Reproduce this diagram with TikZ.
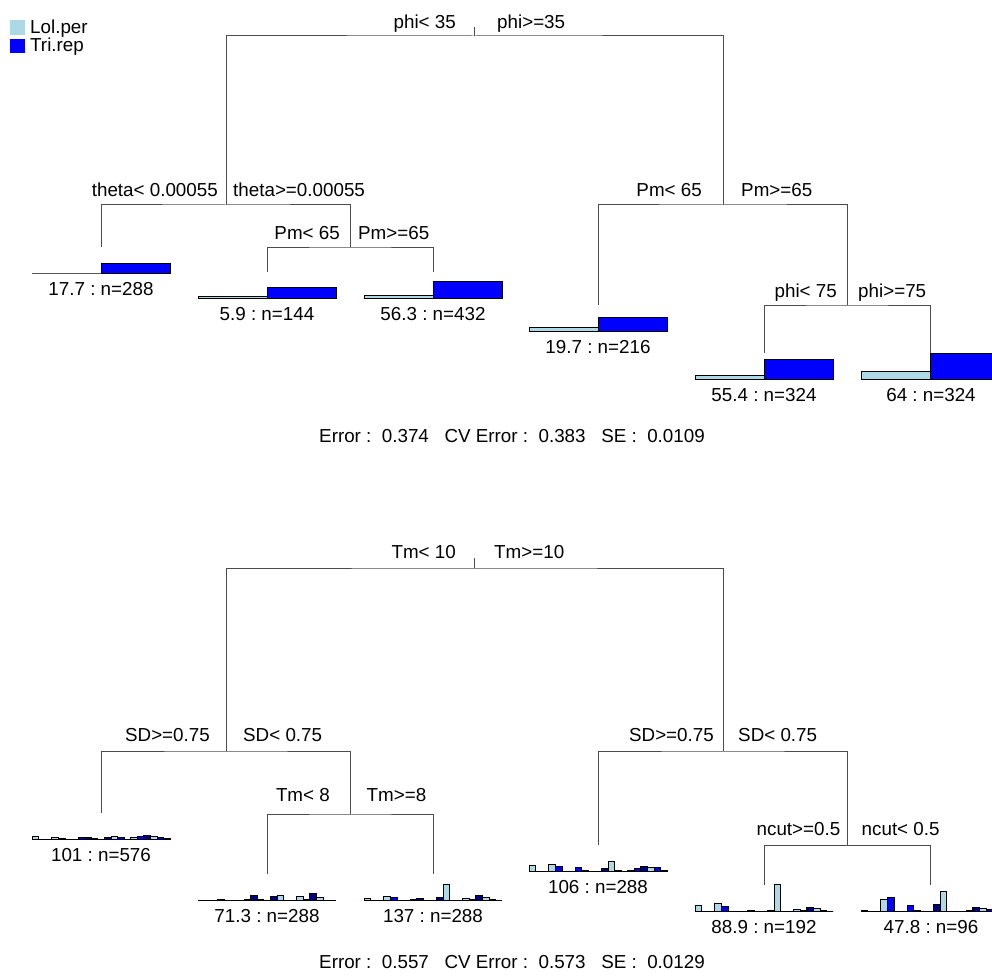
\documentclass[tikz,border=0pt]{standalone}
\usepackage{fontspec}
\setmainfont{Liberation Sans}
\frenchspacing
\definecolor{lb}{HTML}{ADD8E6}
\definecolor{bl}{HTML}{0000FF}
\definecolor{nv}{HTML}{000080}
\tikzset{
  edge/.style={draw=black!70, line width=1pt},
  lab/.style={inner sep=0pt, font=\fontsize{18.8}{22}\selectfont},
  barbox/.style={draw=black, line width=0.8pt},
}
% two-bar leaf chart: x, baseline, h(Lol.per), h(Tri.rep)
\newcommand{\twobars}[4]{%
  \filldraw[barbox, fill=lb] ({#1-69},#2) rectangle (#1,{#2-#3});
  \filldraw[barbox, fill=bl] (#1,#2) rectangle ({#1+69},{#2-#4});
}
% 21-bar leaf chart: x, baseline, heights
\newcommand{\mvbars}[3]{%
  \foreach \hh [count=\ii from 0] in {#3} {
    \pgfmathtruncatemacro{\mm}{mod(\ii,3)}
    \ifcase\mm \def\bc{lb}\or \def\bc{bl}\or \def\bc{nv}\fi
    \filldraw[draw=black, line width=0.6pt, fill=\bc] ({#1-69+\ii*6.571},#2) rectangle ++(6.571,-\hh);
  }
  \draw[line width=1pt] ({#1-69},#2) -- ({#1+69},#2);
}
\begin{document}
\begin{tikzpicture}[x=1pt,y=-1pt]
\fill[white] (0,0) rectangle (992,976);
\useasboundingbox (0,0) rectangle (992,976);
\clip (0,0) rectangle (992,976);

% legend
\fill[lb] (10,20) rectangle (25,35);
\fill[bl] (10,39.5) rectangle (25,53);
\node[lab, anchor=base west] (leg1) at (30,33.5) {Lol.per};
\node[lab, anchor=base west] (leg2) at (30,52) {Tri.rep};

% ---------------- top tree ----------------
\coordinate (t0) at (474,36);
\coordinate (t0k) at (474,27);
\coordinate (tL) at (226,205);
\coordinate (tR) at (723,205);
\coordinate (tLL) at (101,247);
\coordinate (tLR) at (350,247);
\coordinate (tLRL) at (267,272);
\coordinate (tLRR) at (433,272);
\coordinate (tRL) at (598,305);
\coordinate (tRR) at (847,305);
\coordinate (tRRL) at (764,353);
\coordinate (tRRR) at (930,353);

\draw[edge] (t0) -- (t0k);
\draw[edge] (tL) |- (t0) -| (tR);
\draw[edge] (tLL) |- (tL) -| (tLR);
\draw[edge] (tLRL) |- (tLR) -| (tLRR);
\draw[edge] (tRL) |- (tR) -| (tRR);
\draw[edge] (tRRL) |- (tRR) -| (tRRR);

\node[lab, anchor=base east] (s1a) at (456,28.3) {phi< 35};
\node[lab, anchor=base west] (s1b) at (497,28.3) {phi>=35};
\node[lab, anchor=base east] (s2a) at (218,197) {theta< 0.00055};
\node[lab, anchor=base west] (s2b) at (233,197) {theta>=0.00055};
\node[lab, anchor=base east] (s3a) at (340,240) {Pm< 65};
\node[lab, anchor=base west] (s3b) at (358,240) {Pm>=65};
\node[lab, anchor=base east] (s4a) at (702,197) {Pm< 65};
\node[lab, anchor=base west] (s4b) at (741,197) {Pm>=65};
\node[lab, anchor=base east] (s5a) at (837,297.3) {phi< 75};
\node[lab, anchor=base west] (s5b) at (858,297.3) {phi>=75};

\twobars{101}{273}{0}{10}
\twobars{267}{298}{2}{11}
\twobars{433}{298}{3}{17}
\twobars{598}{331}{4}{14}
\twobars{764}{379}{4}{20}
\twobars{930}{379}{8}{26}

\node[lab, anchor=base] (l1) at (101,295) {17.7 : n=288};
\node[lab, anchor=base] (l2) at (267,320) {5.9 : n=144};
\node[lab, anchor=base] (l3) at (433,320) {56.3 : n=432};
\node[lab, anchor=base] (l4) at (598,353) {19.7 : n=216};
\node[lab, anchor=base] (l5) at (764,401) {55.4 : n=324};
\node[lab, anchor=base] (l6) at (931,401) {64 : n=324};

\node[lab, anchor=base] (err1) at (512,442) {Error :\ \ 0.374\ \ \ CV Error :\ \ 0.383\ \ \ SE :\ \ 0.0109};

% ---------------- bottom tree ----------------
\coordinate (b0) at (474,568);
\coordinate (b0k) at (474,558);
\coordinate (bL) at (226,751);
\coordinate (bR) at (723,751);
\coordinate (bLL) at (101,813);
\coordinate (bLR) at (350,814);
\coordinate (bLRL) at (267,874);
\coordinate (bLRR) at (433,874);
\coordinate (bRL) at (598,845);
\coordinate (bRR) at (847,845);
\coordinate (bRRL) at (764,885);
\coordinate (bRRR) at (930,885);

\draw[edge] (b0) -- (b0k);
\draw[edge] (bL) |- (b0) -| (bR);
\draw[edge] (bLL) |- (bL) -| (bLR);
\draw[edge] (bLRL) |- (bLR) -| (bLRR);
\draw[edge] (bRL) |- (bR) -| (bRR);
\draw[edge] (bRRL) |- (bRR) -| (bRRR);

\node[lab, anchor=base east] (u1a) at (456,558.5) {Tm< 10};
\node[lab, anchor=base west] (u1b) at (494,558.5) {Tm>=10};
\node[lab, anchor=base east] (u2a) at (210,741) {SD>=0.75};
\node[lab, anchor=base west] (u2b) at (243,741) {SD< 0.75};
\node[lab, anchor=base east] (u3a) at (330,801) {Tm< 8};
\node[lab, anchor=base west] (u3b) at (366.5,801) {Tm>=8};
\node[lab, anchor=base east] (u4a) at (714,741) {SD>=0.75};
\node[lab, anchor=base west] (u4b) at (738,741) {SD< 0.75};
\node[lab, anchor=base east] (u5a) at (840.5,835) {ncut>=0.5};
\node[lab, anchor=base west] (u5b) at (861.5,835) {ncut< 0.5};

\mvbars{101}{839}{2.7,0,0,2,1,0,0,2,2,0.7,0,2,3,2,0,2,2.7,3.7,2.7,1.3,0.5}
\mvbars{267}{900}{0,0,0,0.7,0,0,0,1,4.3,0.7,0,4,5,0,0,4,0.7,6.3,3,0,0}
\mvbars{433}{900}{1.7,0,0,4,2.7,0,0,1,1.3,0,0,2.7,15.7,0,0,1.7,1,4.7,2.7,0.7,0}
\mvbars{598}{871}{6,0,0,6.7,5,0,0,3.3,1,0,0,2.7,10,0.7,0,1,2.7,4.3,3.3,3.7,0.7}
\mvbars{764}{911}{5.3,0,0,8,4.3,0,0,0,0.7,0,0,0.7,26.7,0,0,1.7,1,3.7,2.7,0.7,0}
\mvbars{930}{911}{1,0,0,11.7,14,0,0,5.5,0.5,0,0,6.3,20,0,0,0,1,3.7,2.5,2,1}

\node[lab, anchor=base] (m1) at (101,861) {101 : n=576};
\node[lab, anchor=base] (m2) at (267,922) {71.3 : n=288};
\node[lab, anchor=base] (m3) at (433,922) {137 : n=288};
\node[lab, anchor=base] (m4) at (598,893) {106 : n=288};
\node[lab, anchor=base] (m5) at (764,933) {88.9 : n=192};
\node[lab, anchor=base] (m6) at (931,933) {47.8 : n=96};

\node[lab, anchor=base] (err2) at (512,968) {Error :\ \ 0.557\ \ \ CV Error :\ \ 0.573\ \ \ SE :\ \ 0.0129};
\end{tikzpicture}
\end{document}
